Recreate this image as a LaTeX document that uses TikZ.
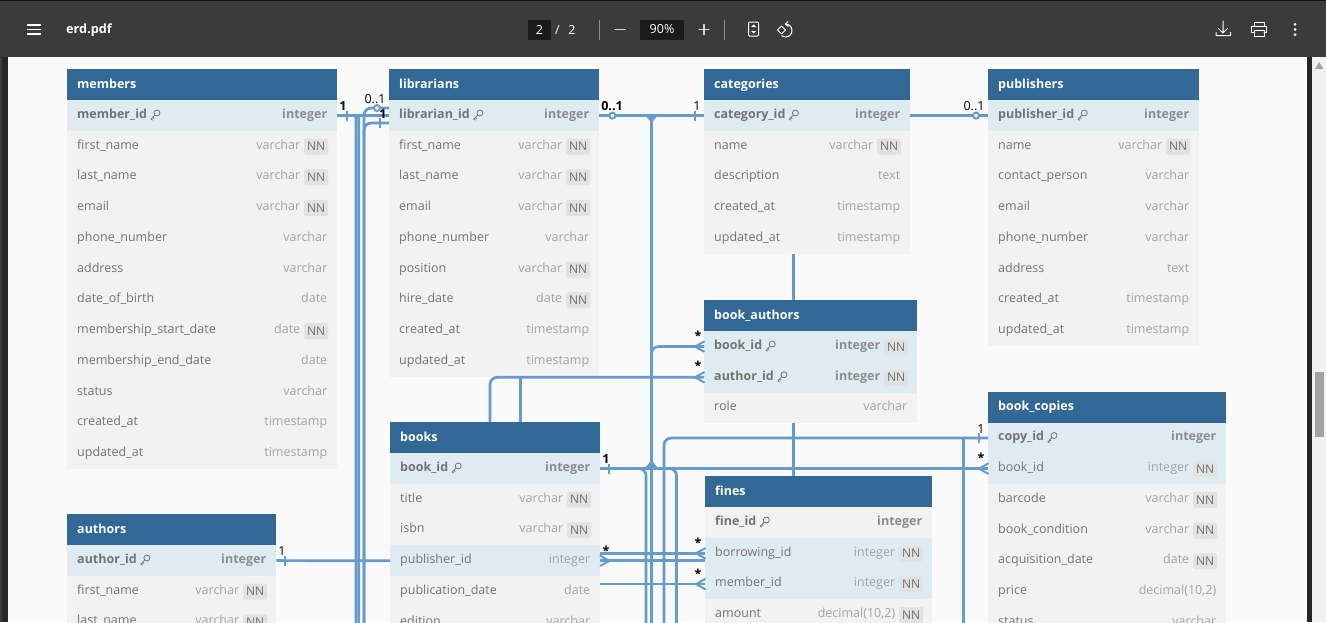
\documentclass[tikz,border=0pt]{standalone}
\usepackage{fontspec}
\setmainfont{Open Sans}
\usetikzlibrary{calc}
\definecolor{barbg}{HTML}{3B3B3B}
\definecolor{stripbg}{HTML}{262626}
\definecolor{pagebg}{HTML}{FAFAFA}
\definecolor{headbg}{HTML}{316895}
\definecolor{rowbg}{HTML}{F2F2F2}
\definecolor{hlbg}{HTML}{DEECF2}
\definecolor{linkc}{HTML}{659CCD}
\definecolor{namec}{HTML}{737373}
\definecolor{typec}{HTML}{A3A3A3}
\definecolor{typebc}{HTML}{8C8C8C}
\definecolor{nnbg}{HTML}{E2E2E2}
\definecolor{nnc}{HTML}{6E6E6E}
\catcode`\_=12
\tikzset{
  headcell/.style={fill=headbg,draw=none,inner sep=0,minimum height=31,anchor=north west},
  rowcell/.style={draw=none,inner sep=0,minimum height=30.75,anchor=north west},
  rowpl/.style={rowcell,fill=rowbg},
  rowhl/.style={rowcell,fill=hlbg},
  txt/.style={inner sep=0,text height=8.6,text depth=2.8,font=\fontsize{12.5}{15}\selectfont},
  titletxt/.style={txt,text height=10,text=white,font=\fontsize{12.5}{15}\selectfont\bfseries,anchor=west},
  nametxt/.style={txt,text=namec,anchor=west},
  namebold/.style={nametxt,text=namec,font=\fontsize{12.5}{15}\selectfont\bfseries},
  typetxt/.style={txt,text=typec,anchor=east},
  typebold/.style={typetxt,text=typebc,font=\fontsize{12.5}{15}\selectfont\bfseries},
  nnbadge/.style={fill=nnbg,rounded corners=2,inner sep=0,minimum width=24,minimum height=16,anchor=east,text=nnc,yshift=-0.2,font=\fontsize{12}{14}\selectfont},
  keyicon/.style={draw=namec,line width=0.8,fill=none},
  link/.style={draw=linkc,line width=2.7,rounded corners=7},
  thin link/.style={draw=linkc,line width=2,line cap=round},
  ring/.style={draw=linkc,line width=2,fill=pagebg},
  card/.style={inner sep=0,text=black,font=\fontsize{12.5}{14}\selectfont},
  cardb/.style={card,font=\fontsize{12.5}{14}\selectfont\bfseries},
  ui/.style={draw=white,line width=1.2,line cap=round,line join=round,fill=none},
  uitxt/.style={inner sep=0,text=white,font=\fontsize{12.5}{14}\selectfont},
}
\newcommand\erdtable[5]{% id x y w title
  \def\curid{#1}\def\curx{#2}\def\curw{#4}
  \node[headcell,minimum width=#4] (#1) at (#2,#3) {};
  \node[titletxt] (#1-title) at ([xshift=10]#1.west) {#5};
  \pgfmathsetmacro\cury{#3+31}
}
\newcommand\rowbase[2]{% style name
  \node[#1,minimum width=\curw] (\curid-#2) at (\curx,\cury) {};
  \pgfmathsetmacro\cury{\cury+30.75}
}
\newcommand\keyglyph[1]{%
  \draw[keyicon,shift={(#1.east)}] (9.8,-2.6) circle (3) (7.6,-0.5) -- (3.8,3.6) -- (5.4,4.6) (5.2,1.9) -- (6.8,3);
}
\newcommand\keyrow[3][rowhl]{% key column, bold type, no badge
  \rowbase{#1}{#2}
  \node[namebold] (\curid-#2-n) at ([xshift=10]\curid-#2.west) {#2};
  \keyglyph{\curid-#2-n}
  \node[typebold] (\curid-#2-t) at ([xshift=-10]\curid-#2.east) {#3};
}
\newcommand\nnrow[3][rowpl]{%
  \rowbase{#1}{#2}
  \node[nametxt] (\curid-#2-n) at ([xshift=10]\curid-#2.west) {#2};
  \node[nnbadge] (\curid-#2-b) at ([xshift=-9]\curid-#2.east) {NN};
  \node[typetxt] (\curid-#2-t) at ([xshift=-37]\curid-#2.east) {#3};
}
\newcommand\plrow[3][rowpl]{%
  \rowbase{#1}{#2}
  \node[nametxt] (\curid-#2-n) at ([xshift=10]\curid-#2.west) {#2};
  \node[typetxt] (\curid-#2-t) at ([xshift=-10]\curid-#2.east) {#3};
}
\newcommand\keynnrow[3][rowhl]{%
  \rowbase{#1}{#2}
  \node[namebold] (\curid-#2-n) at ([xshift=10]\curid-#2.west) {#2};
  \keyglyph{\curid-#2-n}
  \node[nnbadge] (\curid-#2-b) at ([xshift=-9]\curid-#2.east) {NN};
  \node[typebold] (\curid-#2-t) at ([xshift=-37]\curid-#2.east) {#3};
}
% crow's foot whose prongs open towards a table on the right / left
\newcommand\crowR[1]{\draw[thin link] (#1) ++(-9,0) -- ++(9,-5) (#1) ++(-9,0) -- ++(9,5);}
\newcommand\crowL[1]{\draw[thin link] (#1) ++(9,0) -- ++(-9,-5) (#1) ++(9,0) -- ++(-9,5);}
\newcommand\tick[1]{\draw[thin link,line cap=butt] (#1) ++(0,-5) -- ++(0,10);}
\begin{document}
\begin{tikzpicture}[x=1pt,y=-1pt]
\useasboundingbox (0,0) rectangle (1326,622);
\clip (0,0) rectangle (1326,622);
% viewer chrome
\fill[pagebg] (0,0) rectangle (1326,622);
\fill[stripbg] (0,57) rectangle (8,622);
\fill[barbg] (0,57) rectangle (2,622);
\fill[stripbg] (1307,57) rectangle (1312,622);
\fill[rowbg] (1312,57) rectangle (1326,622);
\fill[typec] (1315,372) rectangle (1324,437);
\fill[typec] (1315,69) -- (1323.5,69) -- (1319.2,62) -- cycle;
\fill[barbg] (0,0) rectangle (1326,57);
\fill[black!70!barbg] (0,0) rectangle (1326,1);

% tables
\erdtable{members}{67}{69}{270}{members}
\keyrow{member_id}{integer}
\nnrow{first_name}{varchar}
\nnrow{last_name}{varchar}
\nnrow{email}{varchar}
\plrow{phone_number}{varchar}
\plrow{address}{varchar}
\plrow{date_of_birth}{date}
\nnrow{membership_start_date}{date}
\plrow{membership_end_date}{date}
\plrow{status}{varchar}
\plrow{created_at}{timestamp}
\plrow{updated_at}{timestamp}

\erdtable{librarians}{389}{69}{210}{librarians}
\keyrow{librarian_id}{integer}
\nnrow{first_name}{varchar}
\nnrow{last_name}{varchar}
\nnrow{email}{varchar}
\plrow{phone_number}{varchar}
\nnrow{position}{varchar}
\nnrow{hire_date}{date}
\plrow{created_at}{timestamp}
\plrow{updated_at}{timestamp}

\erdtable{categories}{704}{69}{206}{categories}
\keyrow{category_id}{integer}
\nnrow{name}{varchar}
\plrow{description}{text}
\plrow{created_at}{timestamp}
\plrow{updated_at}{timestamp}

\erdtable{publishers}{988}{69}{211}{publishers}
\keyrow{publisher_id}{integer}
\nnrow{name}{varchar}
\plrow{contact_person}{varchar}
\plrow{email}{varchar}
\plrow{phone_number}{varchar}
\plrow{address}{text}
\plrow{created_at}{timestamp}
\plrow{updated_at}{timestamp}

\erdtable{book_authors}{704}{300}{213}{book_authors}
\keynnrow{book_id}{integer}
\keynnrow{author_id}{integer}
\plrow{role}{varchar}

\erdtable{book_copies}{988}{391.5}{238}{book_copies}
\keyrow[rowhl]{copy_id}{integer}
\nnrow[rowhl]{book_id}{integer}
\nnrow{barcode}{varchar}
\nnrow{book_condition}{varchar}
\nnrow{acquisition_date}{date}
\plrow{price}{decimal(10,2)}
\plrow{status}{varchar}

\erdtable{books}{390}{422}{210}{books}
\keyrow{book_id}{integer}
\nnrow{title}{varchar}
\nnrow{isbn}{varchar}
\plrow[rowhl]{publisher_id}{integer}
\plrow{publication_date}{date}
\plrow{edition}{varchar}

\erdtable{fines}{705}{476}{227}{fines}
\keyrow[rowpl]{fine_id}{integer}
\nnrow[rowhl]{borrowing_id}{integer}
\nnrow[rowhl]{member_id}{integer}
\nnrow{amount}{decimal(10,2)}

\erdtable{authors}{67}{514}{209}{authors}
\keyrow{author_id}{integer}
\nnrow{first_name}{varchar}
\nnrow{last_name}{varchar}

% free ends and bends of the connectors
\coordinate (cutA) at (356,640);
\coordinate (cutB) at (358.7,640);
\coordinate (cutC) at (364,640);
\coordinate (cutD) at (646,640);
\coordinate (cutE) at (651.5,640);
\coordinate (cutF) at (664,640);
\coordinate (cutG) at (676.5,640);
\coordinate (cutH) at (963.5,640);
\coordinate (libUp) at ($(librarians-librarian_id.west)+(0,-7.5)$);
\coordinate (libDn) at ($(librarians-librarian_id.west)+(0,7.5)$);
\coordinate (catLow) at (793.5,253.5);
\coordinate (baTop) at (793.5,300);
\coordinate (baLow) at (793.5,423);
\coordinate (fiTop) at (793.5,476);

% members / librarians bundle
\draw[link,rounded corners=2] (members-member_id.east) -| (cutA);
\draw[link,rounded corners=2] (members-member_id.east) -| (cutB);
\draw[link,rounded corners=0] (members-member_id.east) -- (librarians-librarian_id.west);
\draw[link] (libUp) -| (cutC);
\draw[link] (libDn) -| (cutC);
\tick{$(members-member_id.east)+(10,0)$}
\draw[ring] ($(libUp)+(-12,0)$) circle (3);
\tick{$(libDn)+(-9,0)$}
\node[cardb] (l1) at (343,106) {1};
\node[card] (l2) at (375,99) {0..1};
\node[cardb] (l3) at (383,114) {1};

% librarians -> categories and branch down
\draw[link,rounded corners=0] (librarians-librarian_id.east) -- (categories-category_id.west);
\draw[link,rounded corners=0] (651.5,115) -- (651.5,468);
\fill[linkc] (645,115) -- (658,115) -- (653,121) -- (650,121) -- cycle;
\draw[ring] ($(librarians-librarian_id.east)+(13,0)$) circle (3);
\tick{$(categories-category_id.west)+(-9,0)$}
\node[cardb] (l4) at (612,106) {0..1};
\node[card] (l5) at (697,106) {1};
\draw[link,rounded corners=0] (categories-category_id.east) -- (publishers-publisher_id.west);
\draw[ring] ($(publishers-publisher_id.west)+(-12,0)$) circle (3);
\node[card] (l6) at (974,106) {0..1};

% book_authors
\draw[link] (book_authors-book_id.west) -| (cutE);
\crowR{book_authors-book_id.west}
\node[cardb] (l7) at (698,336) {*};
\draw[link] (490,422) |- (book_authors-author_id.west);
\crowR{book_authors-author_id.west}
\node[cardb] (l8) at (698,366) {*};
\draw[link,rounded corners=0] (520.5,378) -- (520.5,422);
\draw[link,rounded corners=0] (catLow) -- (baTop);
\draw[link,rounded corners=0] (baLow) -- (fiTop);

% book_copies
\draw[link] (cutF) |- (book_copies-copy_id.west);
\draw[link,rounded corners=0] (963.5,437.2) -- (cutH);
\tick{$(book_copies-copy_id.west)+(-9,0)$}
\node[card] (l9) at (981,429) {1};
\draw[link,rounded corners=0] (books-book_id.east) -- (books-book_id.east -| book_copies.west);
\crowR{$(books-book_id.east -| book_copies.west)$}
\tick{$(books-book_id.east)+(9,0)$}
\node[cardb] (l10) at (606,459) {1};
\node[cardb] (l11) at (981,458) {*};
\fill[linkc] (645,468) -- (658,468) -- (653,462) -- (650,462) -- cycle;
\draw[link] (books-book_id.east -| 636,0) -| (cutD);
\draw[link] (books-book_id.east -| 666,0) -| (cutG);

% fines and publisher rows
\draw[link,rounded corners=0] (books-publisher_id.east |- fines-borrowing_id.west) -- (fines-borrowing_id.west);
\draw[link,rounded corners=0] (books-publisher_id.east) -- (books-publisher_id.east -| fines.west);
\draw[link,rounded corners=0] (books-publisher_id.east |- fines-member_id.west) -- (fines-member_id.west);
\crowL{books-publisher_id.east}
\crowR{fines-borrowing_id.west}
\crowR{fines-member_id.west}
\node[cardb] (l12) at (606,551) {*};
\node[cardb] (l13) at (698,543) {*};
\node[cardb] (l14) at (698,574) {*};

% authors
\draw[link,rounded corners=0] (authors-author_id.east) -- (books-publisher_id.west);
\tick{$(authors-author_id.east)+(9,0)$}
\node[card] (l15) at (282,551) {1};

% toolbar
\draw[ui] (27.5,25) -- (40.5,25) (27.5,29.5) -- (40.5,29.5) (27.5,34) -- (40.5,34);
\node[uitxt,font=\fontsize{12.7}{15}\selectfont\bfseries,anchor=west] (file) at (66,30) {erd.pdf};
\node[fill=stripbg!70!black,minimum width=23,minimum height=20,inner sep=0] (pagebox) at (539.5,29.5) {};
\node[uitxt] (pagecur) at (pagebox) {2};
\node[uitxt] (pagesl) at (557.5,30) {/};
\node[uitxt] (pagetot) at (572,30) {2};
\draw[typec!80!barbg,line width=1] (599.5,19.5) -- (599.5,39.5) (724.5,19.5) -- (724.5,39.5);
\draw[ui,draw=white!85!black,line width=1.5] (615,29.5) -- (625,29.5) (699,29.5) -- (709,29.5) (704,24.5) -- (704,34.5);
\node[fill=stripbg!70!black,minimum width=44,minimum height=20,inner sep=0] (zoombox) at (662,29.5) {};
\node[uitxt] (zoomtxt) at (zoombox) {90\%};
\draw[ui,line width=1,rounded corners=1] (748.5,22) rectangle (758.5,36);
\fill[white] (753.5,24.5) -- (756,27) -- (751,27) -- cycle (753.5,33.5) -- (756,31) -- (751,31) -- cycle;
\draw[ui,line width=1] (777.5,30) -- (781.5,26) -- (785.5,30) -- (781.5,34) -- cycle;
\draw[ui,line width=1] (785.5,24) arc (-90:125:6.5);
\draw[ui,line width=1] (788,21.5) -- (785.5,24) -- (788,26.5);
\draw[ui,line width=1] (1223,21) -- (1223,32.5) (1218.5,28.5) -- (1223,33) -- (1227.5,28.5) (1216,32.5) -- (1216,35.5) -- (1230.5,35.5) -- (1230.5,32.5);
\draw[ui,line width=1] (1254,26) -- (1254,22) -- (1264,22) -- (1264,26) (1254,32.5) -- (1251.5,32.5) -- (1251.5,26) -- (1266.5,26) -- (1266.5,32.5) -- (1264,32.5) (1254,30) rectangle (1264,36);
\fill[white] (1295,24.3) circle (1.5) (1295,29.5) circle (1.5) (1295,34.7) circle (1.5);
\end{tikzpicture}
\end{document}
